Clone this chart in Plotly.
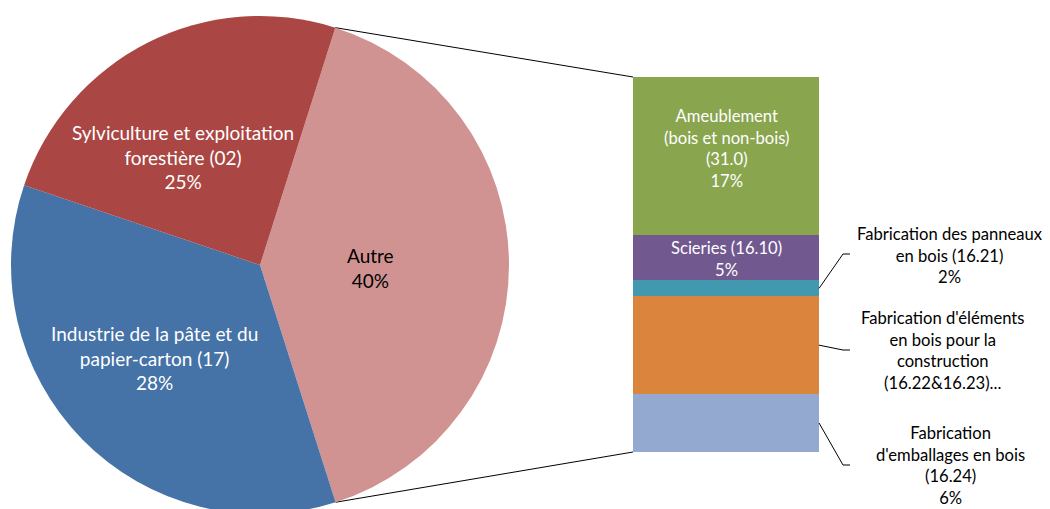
import math
import plotly.graph_objects as go

W, H = 1050, 509
OFF = 8                      # default body margin of the html page
FW, FH = W - OFF, H          # figure size (bottom rows fall below the window)

# pie: first slice is "Autre", drawn clockwise from the upper connector
pie_names = ["Autre",
             "Industrie de la pâte et du<br>papier-carton (17)",
             "Sylviculture et exploitation<br>forestière (02)"]
pie_values = [40.2, 35.1, 24.7]
pie_pct = ["40%", "28%", "25%"]
pie_colors = ["#D19392", "#4572A7", "#AA4643"]
pie_text_colors = ["black", "white", "white"]

# bar of "Autre", listed top to bottom
bar_names = ["Ameublement<br>(bois et non-bois)<br>(31.0)",
             "Scieries (16.10)",
             "Fabrication des panneaux<br>en bois (16.21)",
             "Fabrication d'éléments<br>en bois pour la<br>construction<br>(16.22&16.23)...",
             "Fabrication<br>d'emballages en bois<br>(16.24)"]
bar_values = [16.8, 4.9, 1.7, 10.4, 6.2]
bar_pct = ["17%", "5%", "2%", "", "6%"]
bar_colors = ["#89A54E", "#71588F", "#4198AF", "#DB843D", "#93A9CF"]

FONT = "Lato"
FS_PIE = 19
FS_BAR = 16.6

# geometry in window pixels
PIE_CX, PIE_CY, PIE_R = 260, 265, 249
BAR_X0, BAR_X1, BAR_TOP, BAR_BOT = 633, 819, 77, 452
ROTATION = 17.6

total = sum(bar_values)
scale = (BAR_BOT - BAR_TOP) / total


def py(p):
    # window pixel row -> y axis value
    return total + (BAR_TOP - p) / scale


fig = go.Figure()

fig.add_trace(go.Pie(
    labels=[n.replace("<br>", " ") for n in pie_names], values=pie_values,
    sort=False, direction="clockwise", rotation=ROTATION,
    marker=dict(colors=pie_colors, line=dict(width=0)),
    textinfo="none", showlegend=False,
    domain=dict(x=[(PIE_CX - PIE_R - OFF) / FW, (PIE_CX + PIE_R - OFF) / FW],
                y=[1 - (PIE_CY + PIE_R - OFF) / FH, 1 - (PIE_CY - PIE_R - OFF) / FH]),
))

# stacked bar, bottom segment first
bar_x = (BAR_X0 + BAR_X1) / 2
for name, v, c in reversed(list(zip(bar_names, bar_values, bar_colors))):
    fig.add_trace(go.Bar(x=[bar_x], y=[v], width=BAR_X1 - BAR_X0,
                         marker=dict(color=c, line=dict(width=0)),
                         name=name.replace("<br>", " "), showlegend=False))

# connectors between the "Autre" slice and the bar
a0 = math.radians(ROTATION)
a1 = math.radians(ROTATION + 360 * pie_values[0] / sum(pie_values))
p0 = (PIE_CX + PIE_R * math.sin(a0), PIE_CY - PIE_R * math.cos(a0))
p1 = (PIE_CX + PIE_R * math.sin(a1), PIE_CY - PIE_R * math.cos(a1))
fig.add_trace(go.Scatter(x=[p0[0], BAR_X0, None, p1[0], BAR_X0],
                         y=[py(p0[1]), total, None, py(p1[1]), 0],
                         mode="lines", line=dict(color="black", width=1),
                         hoverinfo="skip", showlegend=False))

annotations = []

# pie labels
pie_label_pos = [(370, 268), (154, 358), (183, 157)]
for name, pct, col, (lx, ly) in zip(pie_names, pie_pct, pie_text_colors, pie_label_pos):
    annotations.append(dict(x=lx, y=py(ly), text=f"{name}<br>{pct}", showarrow=False,
                            font=dict(color=col, size=FS_PIE, family=FONT)))

# segment centers
tops = []
acc = total
for v in bar_values:
    tops.append(acc)
    acc -= v
mids = [t - v / 2 for t, v in zip(tops, bar_values)]

# labels inside the bar
for i, shift in ((0, 7), (1, -2)):
    annotations.append(dict(x=bar_x, y=mids[i], yshift=shift,
                            text=f"{bar_names[i]}<br>{bar_pct[i]}", showarrow=False,
                            font=dict(color="white", size=FS_BAR, family=FONT)))

# labels outside with leader lines
outside = [(2, 950, 255, 843, 254), (3, 942, 350, 843, 350), (4, 950, 465, 843, 465)]
lx, ly = [], []
for i, tx, ty, kx, ky in outside:
    lx += [BAR_X1, kx, kx + 7, None]
    ly += [mids[i], py(ky), py(ky), None]
    txt = bar_names[i] + (f"<br>{bar_pct[i]}" if bar_pct[i] else "")
    annotations.append(dict(x=tx, y=py(ty), text=txt, showarrow=False,
                            font=dict(color="black", size=FS_BAR, family=FONT)))
fig.add_trace(go.Scatter(x=lx, y=ly, mode="lines", line=dict(color="black", width=1),
                         hoverinfo="skip", showlegend=False))

fig.update_layout(
    width=FW, height=FH, margin=dict(l=0, r=0, t=0, b=0),
    paper_bgcolor="white", plot_bgcolor="white",
    barmode="stack", bargap=0,
    xaxis=dict(range=[OFF, OFF + FW], visible=False, fixedrange=True),
    yaxis=dict(range=[py(OFF + FH), py(OFF)], visible=False, fixedrange=True),
    annotations=annotations,
    font=dict(family=FONT, size=FS_BAR),
)

fig.write_html("out.html")
